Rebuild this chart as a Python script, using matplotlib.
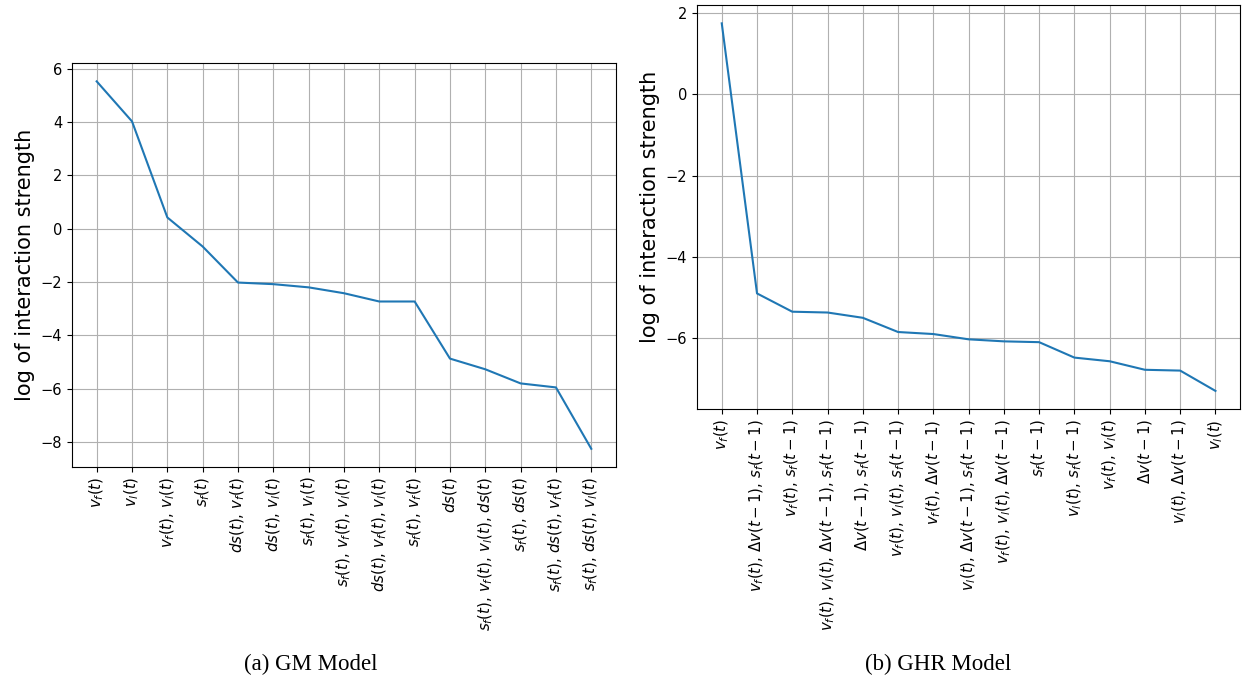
import matplotlib.pyplot as plt

# GM model: interaction terms and their log strength
gm_terms = [
    r'$v_f(t)$', r'$v_l(t)$', r'$v_f(t)$, $v_l(t)$', r'$s_f(t)$',
    r'$ds(t)$, $v_f(t)$', r'$ds(t)$, $v_l(t)$', r'$s_f(t)$, $v_l(t)$',
    r'$s_f(t)$, $v_f(t)$, $v_l(t)$', r'$ds(t)$, $v_f(t)$, $v_l(t)$',
    r'$s_f(t)$, $v_f(t)$', r'$ds(t)$', r'$s_f(t)$, $v_f(t)$, $v_l(t)$, $ds(t)$',
    r'$s_f(t)$, $ds(t)$', r'$s_f(t)$, $ds(t)$, $v_f(t)$', r'$s_f(t)$, $ds(t)$, $v_l(t)$',
]
gm_strength = [5.52, 4.02, 0.42, -0.67, -2.02, -2.08, -2.2, -2.42, -2.73,
               -2.73, -4.87, -5.27, -5.8, -5.95, -8.25]

# GHR model
ghr_terms = [
    r'$v_f(t)$', r'$v_f(t)$, $\Delta v(t-1)$, $s_f(t-1)$', r'$v_f(t)$, $s_f(t-1)$',
    r'$v_f(t)$, $v_l(t)$, $\Delta v(t-1)$, $s_f(t-1)$', r'$\Delta v(t-1)$, $s_f(t-1)$',
    r'$v_f(t)$, $v_l(t)$, $s_f(t-1)$', r'$v_f(t)$, $\Delta v(t-1)$',
    r'$v_l(t)$, $\Delta v(t-1)$, $s_f(t-1)$', r'$v_f(t)$, $v_l(t)$, $\Delta v(t-1)$',
    r'$s_f(t-1)$', r'$v_l(t)$, $s_f(t-1)$', r'$v_f(t)$, $v_l(t)$', r'$\Delta v(t-1)$',
    r'$v_l(t)$, $\Delta v(t-1)$', r'$v_l(t)$',
]
ghr_strength = [1.75, -4.9, -5.35, -5.37, -5.5, -5.85, -5.9, -6.03, -6.08,
                -6.1, -6.48, -6.57, -6.78, -6.8, -7.3]

fig = plt.figure(figsize=(12.47, 6.81), dpi=100)
ax1 = fig.add_axes([0.0577, 0.314, 0.4363, 0.5935])
ax2 = fig.add_axes([0.559, 0.399, 0.4355, 0.5937])

for ax, terms, vals in [(ax1, gm_terms, gm_strength), (ax2, ghr_terms, ghr_strength)]:
    ax.plot(range(len(vals)), vals, color='#1f77b4', lw=1.5)
    ax.set_xticks(range(len(terms)))
    ax.set_xticklabels(terms, rotation=90, fontsize=10.8)
    ax.tick_params(axis='y', labelsize=10.5)
    ax.set_ylabel('log of interaction strength', fontsize=15)
    ax.grid(True)

ax1.set_yticks([-8, -6, -4, -2, 0, 2, 4, 6])
ax2.set_yticks([-6, -4, -2, 0, 2])

fig.text(0.249, 0.016, '(a) GM Model', ha='center', family='Liberation Serif', fontsize=16.5)
fig.text(0.752, 0.016, '(b) GHR Model', ha='center', family='Liberation Serif', fontsize=16.5)

fig.savefig('out.png', dpi=100)
